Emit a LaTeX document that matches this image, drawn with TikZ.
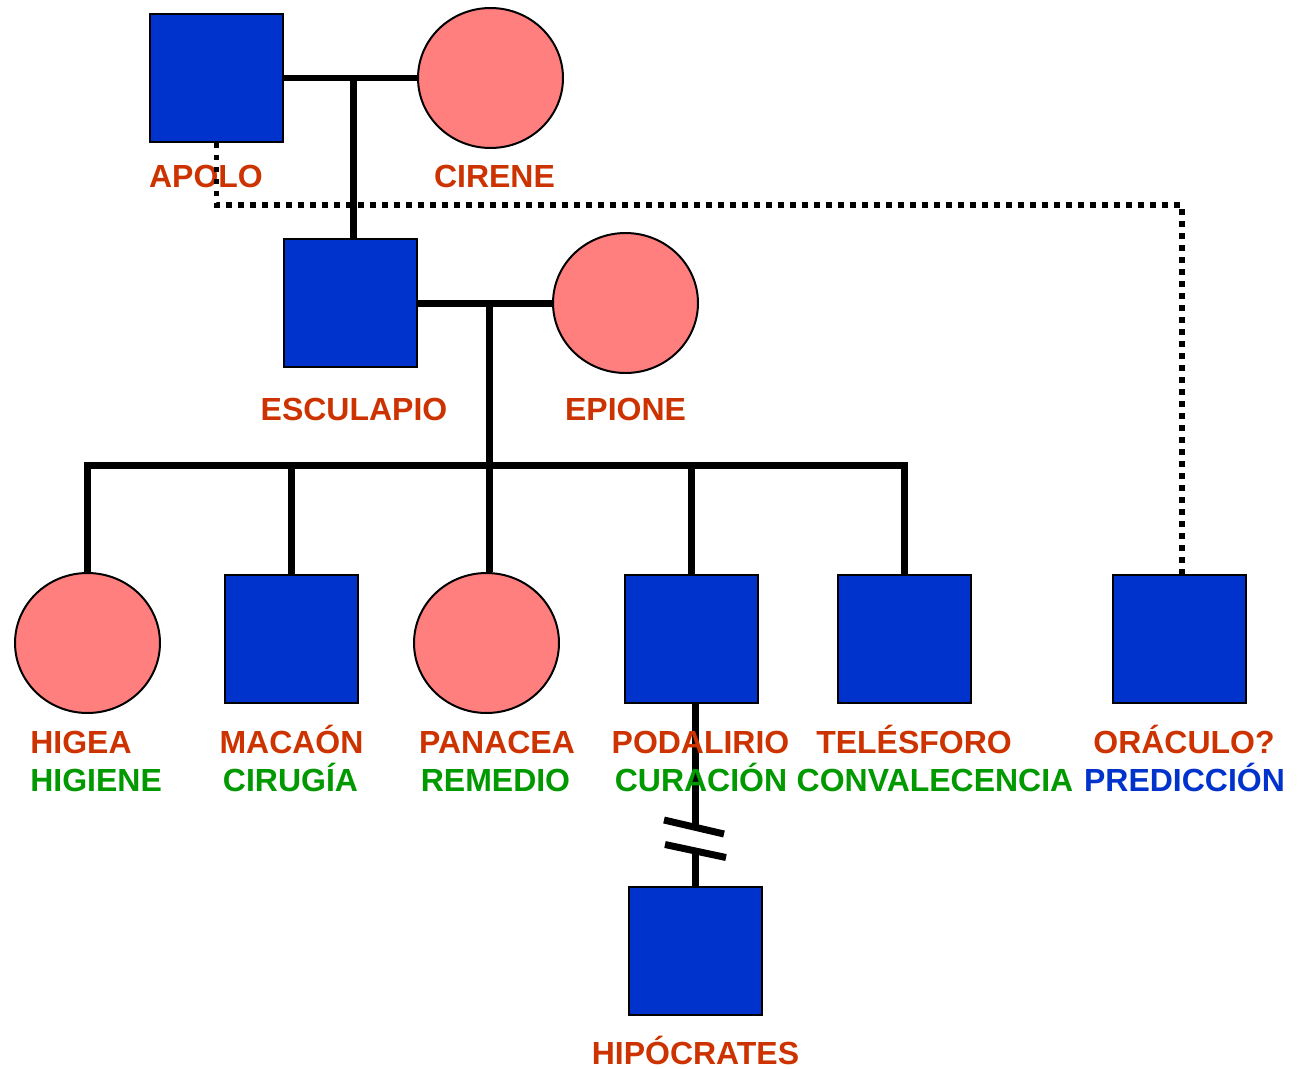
\documentclass[tikz,border=0pt]{standalone}
\usepackage{fontspec}
\setmainfont{Liberation Sans}
\usetikzlibrary{shapes.geometric}
\definecolor{maleblue}{HTML}{0033CC}
\definecolor{femalepink}{HTML}{FF7F7F}
\definecolor{namered}{HTML}{CC3300}
\definecolor{rolegreen}{HTML}{009900}
\definecolor{roleblue}{HTML}{0033CC}
\begin{document}
\begin{tikzpicture}[x=0.02cm,y=-0.02cm,
  malebox/.style={rectangle,draw=black,line width=0.04cm,fill=maleblue,minimum width=2.66cm,minimum height=2.56cm,inner sep=0pt},
  femalebox/.style={ellipse,draw=black,line width=0.04cm,fill=femalepink,minimum width=2.9cm,minimum height=2.8cm,inner sep=0pt},
  tie/.style={line width=0.14cm,line join=miter},
  dotline/.style={line width=0.11cm,dash pattern=on 0.11cm off 0.13cm},
  lbl/.style={font=\bfseries\fontsize{18.2}{20}\selectfont,inner sep=0pt,anchor=base},
  namelbl/.style={lbl,text=namered},
  rolelbl/.style={lbl,text=rolegreen},
  predlbl/.style={lbl,text=roleblue}]
\useasboundingbox (0,0) rectangle (1300,1068);

% people
\node[malebox] (apolo) at (216.5,78) {};
\node[femalebox] (cirene) at (490.5,78) {};
\node[malebox] (esculapio) at (350.5,303) {};
\node[femalebox] (epione) at (625.5,303) {};
\node[femalebox] (higea) at (87.5,643) {};
\node[malebox] (macaon) at (291.5,639) {};
\node[femalebox] (panacea) at (486.5,643) {};
\node[malebox] (podalirio) at (691,639) {};
\node[malebox] (telesforo) at (904.5,639) {};
\node[malebox] (oraculo) at (1179.5,639) {};
\node[malebox] (hipocrates) at (695,951) {};

% helper coordinates
\coordinate (m1) at (353,78);
\coordinate (m2) at (489,303);
\coordinate (sib) at (489,465);
\coordinate (b1) at (695,827);
\coordinate (b2) at (695,851);
\coordinate (dl) at (1182,205);

% solid connectors
\draw[tie] (apolo.east) -- (cirene.west);
\draw[tie] (m1) -- (m1 |- esculapio.north);
\draw[tie] (esculapio.east) -- (epione.west);
\draw[tie] (m2) -- (sib |- panacea.north);
\draw[tie] (higea.north) |- (sib) -| (telesforo.north);
\draw[tie] (macaon.north) -- (macaon.north |- sib);
\draw[tie] (podalirio.north) -- (podalirio.north |- sib);
\draw[tie] (b1 |- podalirio.south) -- (b1);
\draw[tie] (b2) -- (b2 |- hipocrates.north);
\draw[tie] ([shift={(-31,-7)}]b1) -- ([shift={(29,7)}]b1);
\draw[tie] ([shift={(-30,-6.5)}]b2) -- ([shift={(31,6.5)}]b2);

% labels
\node[namelbl] (lapolo) at (206,187) {APOLO};
\node[namelbl] (lcirene) at (494.5,187) {CIRENE};
\node[namelbl] (lesculapio) at (354,420) {ESCULAPIO};
\node[namelbl] (lepione) at (625.5,420) {EPIONE};
\node[namelbl,anchor=base west] (lhigea) at (30,753) {HIGEA};
\node[rolelbl,anchor=base west] (rhigea) at (30,791) {HIGIENE};
\node[namelbl] (lmacaon) at (291.5,753) {MACAÓN};
\node[rolelbl] (rmacaon) at (290.5,791) {CIRUGÍA};
\node[namelbl] (lpanacea) at (497,753) {PANACEA};
\node[rolelbl] (rpanacea) at (495.5,791) {REMEDIO};
\node[namelbl] (lpodalirio) at (700.5,753) {PODALIRIO};
\node[rolelbl] (rpodalirio) at (701,791) {CURACIÓN};
\node[namelbl] (ltelesforo) at (914,753) {TELÉSFORO};
\node[rolelbl] (rtelesforo) at (935,791) {CONVALECENCIA};
\node[namelbl] (loraculo) at (1184,753) {ORÁCULO?};
\node[predlbl] (roraculo) at (1184.5,791) {PREDICCIÓN};
\node[namelbl] (lhipocrates) at (695.5,1064) {HIPÓCRATES};

% dotted connector (drawn over the APOLO label, as in the reference)
\draw[dotline] (apolo.south) |- (dl) -- (dl |- oraculo.north);
\end{tikzpicture}
\end{document}
